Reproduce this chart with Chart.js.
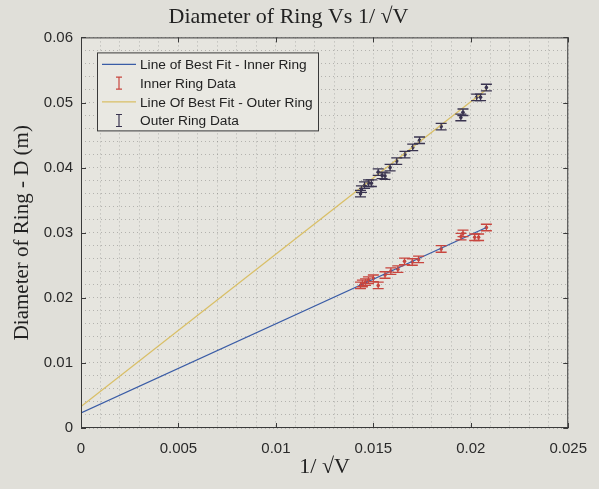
<!DOCTYPE html>
<html>
<head>
<meta charset="utf-8">
<script src="https://cdn.jsdelivr.net/npm/chart.js@4/dist/chart.umd.min.js"></script>
<style>
  html, body { margin: 0; padding: 0; background: #e0dfd9; }
  #wrap { width: 599px; height: 489px; }
</style>
</head>
<body>
<div id="wrap"><canvas id="chart" width="599" height="489"></canvas></div>
<script>
// 1/sqrt(V) values and ring diameters (m)
const innerX = [0.01434, 0.01444, 0.0146, 0.01475, 0.0150, 0.01525, 0.0156, 0.0159, 0.01626,
                0.0166, 0.0170, 0.01732, 0.01848, 0.0195, 0.0196, 0.0202, 0.0204, 0.0208];
const innerD = [0.0219, 0.0222, 0.0224, 0.0227, 0.0230, 0.0219, 0.0235, 0.0241, 0.0244,
                0.0256, 0.0255, 0.0259, 0.0275, 0.0294, 0.0299, 0.0293, 0.0293, 0.0308];
const outerX = [0.01434, 0.01439, 0.01455, 0.01475, 0.0149, 0.01525, 0.01545, 0.0156, 0.01586,
                0.0162, 0.01662, 0.01702, 0.01737, 0.01848, 0.01949, 0.0196, 0.0203, 0.0205, 0.0208];
const outerD = [0.0360, 0.0367, 0.0373, 0.0376, 0.0376, 0.0393, 0.0388, 0.0387, 0.0400,
                0.0410, 0.0420, 0.0431, 0.0442, 0.0463, 0.0477, 0.0485, 0.0508, 0.0508, 0.0523];
const innerErr = 0.0005;
const outerErr = 0.0005;

// best fit lines (end points)
const fitX = [0, 0.0208];
const innerFit = [0.0023, 0.0308];
const outerFit = [0.0033, 0.0520];

const xMajor = [0, 0.005, 0.01, 0.015, 0.02, 0.025];
const yMajor = [0, 0.01, 0.02, 0.03, 0.04, 0.05, 0.06];

const legendLabels = ['Line of Best Fit - Inner Ring', 'Inner Ring Data',
                      'Line Of Best Fit - Outer Ring', 'Outer Ring Data'];

const BLUE = '#3a5ca6';
const RED = '#c8463f';
const YELLOW = '#d9bf66';
const DARK = '#3a3450';

const pts = (xs, ys) => xs.map((x, i) => ({ x: x, y: ys[i] }));
const isMajor = (v, list) => list.some(m => Math.abs(v - m) < 1e-7);

const decor = {
  id: 'decor',
  beforeDraw(chart) {
    const { ctx, chartArea: a } = chart;
    ctx.save();
    ctx.fillStyle = '#e6e5df';
    ctx.fillRect(a.left, a.top, a.right - a.left, a.bottom - a.top);
    ctx.restore();
  },
  afterDatasetsDraw(chart) {
    const { ctx, chartArea: a, scales } = chart;
    const xs = scales.x, ys = scales.y;
    ctx.save();

    // error bars
    const bars = [[innerX, innerD, innerErr, RED], [outerX, outerD, outerErr, DARK]];
    bars.forEach(([bx, by, err, col]) => {
      ctx.strokeStyle = col;
      ctx.lineWidth = 1.3;
      bx.forEach((xv, i) => {
        const px = xs.getPixelForValue(xv);
        const top = ys.getPixelForValue(by[i] + err);
        const bot = ys.getPixelForValue(by[i] - err);
        ctx.beginPath();
        ctx.moveTo(px, top); ctx.lineTo(px, bot);
        ctx.moveTo(px - 5.5, top); ctx.lineTo(px + 5.5, top);
        ctx.moveTo(px - 5.5, bot); ctx.lineTo(px + 5.5, bot);
        ctx.stroke();
      });
    });

    // axes box and inner tick marks
    ctx.strokeStyle = '#3a3a3a';
    ctx.lineWidth = 1;
    ctx.strokeRect(a.left + 0.5, a.top + 0.5, a.right - a.left - 1, a.bottom - a.top - 1);
    ctx.beginPath();
    xMajor.forEach(v => {
      const px = Math.round(xs.getPixelForValue(v)) + 0.5;
      ctx.moveTo(px, a.bottom); ctx.lineTo(px, a.bottom - 5);
      ctx.moveTo(px, a.top); ctx.lineTo(px, a.top + 5);
    });
    yMajor.forEach(v => {
      const py = Math.round(ys.getPixelForValue(v)) + 0.5;
      ctx.moveTo(a.left, py); ctx.lineTo(a.left + 5, py);
      ctx.moveTo(a.right, py); ctx.lineTo(a.right - 5, py);
    });
    ctx.stroke();

    // legend
    const lx = a.left + 16, ly = a.top + 15, lw = 221, lh = 78;
    ctx.fillStyle = '#e9e8e2';
    ctx.fillRect(lx, ly, lw, lh);
    ctx.strokeStyle = '#3a3a3a';
    ctx.strokeRect(lx + 0.5, ly + 0.5, lw, lh);
    ctx.font = '13.7px "Liberation Sans", Arial, sans-serif';
    ctx.textBaseline = 'middle';
    const cols = [BLUE, RED, YELLOW, DARK];
    legendLabels.forEach((txt, i) => {
      const cy = ly + 12 + i * 18.7;
      ctx.strokeStyle = cols[i];
      ctx.lineWidth = 1.2;
      ctx.beginPath();
      if (i % 2 === 0) {
        ctx.moveTo(lx + 5, cy); ctx.lineTo(lx + 39, cy);
      } else {
        const cx = lx + 22;
        ctx.moveTo(cx, cy - 6); ctx.lineTo(cx, cy + 6);
        ctx.moveTo(cx - 3, cy - 6); ctx.lineTo(cx + 3, cy - 6);
        ctx.moveTo(cx - 3, cy + 6); ctx.lineTo(cx + 3, cy + 6);
      }
      ctx.stroke();
      ctx.fillStyle = '#222';
      ctx.fillText(txt, lx + 43, cy + 1);
    });
    ctx.restore();
  }
};

const gridOpts = {
  color: 'rgba(70,70,70,0.32)',
  lineWidth: 1,
  drawTicks: false
};

const config = {
  data: {
    datasets: [
      { type: 'line', label: legendLabels[0], data: pts(fitX, innerFit), borderColor: BLUE,
        borderWidth: 1.3, pointRadius: 0, fill: false },
      { type: 'scatter', label: legendLabels[1], data: pts(innerX, innerD), borderColor: RED,
        backgroundColor: RED, pointRadius: 1.8, borderWidth: 0 },
      { type: 'line', label: legendLabels[2], data: pts(fitX, outerFit), borderColor: YELLOW,
        borderWidth: 1.3, pointRadius: 0, fill: false },
      { type: 'scatter', label: legendLabels[3], data: pts(outerX, outerD), borderColor: DARK,
        backgroundColor: DARK, pointRadius: 1.8, borderWidth: 0 }
    ]
  },
  options: {
    responsive: false,
    animation: false,
    layout: { padding: { right: 22, top: 0, bottom: 0, left: 0 } },
    plugins: {
      legend: { display: false },
      tooltip: { enabled: false },
      title: {
        display: true,
        text: 'Diameter of Ring Vs 1/ \u221AV',
        color: '#222',
        font: { family: '"Liberation Serif", "DejaVu Serif", serif', size: 22, weight: 'normal' },
        padding: { top: 4, bottom: 7 }
      }
    },
    scales: {
      x: {
        type: 'linear', min: 0, max: 0.025,
        afterFit(scale) { scale.height = 61; },
        border: { display: false, dash: [1, 3] },
        grid: gridOpts,
        ticks: {
          stepSize: 0.001, autoSkip: false, maxRotation: 0, padding: 12,
          color: '#2a2a2a',
          font: { family: '"Liberation Sans", Arial, sans-serif', size: 15 },
          callback: v => isMajor(v, xMajor) ? String(+v.toFixed(3)) : ''
        },
        title: {
          display: true, text: '1/ \u221AV', color: '#222',
          font: { family: '"Liberation Serif", "DejaVu Serif", serif', size: 22 },
          padding: { top: 0, bottom: 9 }
        }
      },
      y: {
        type: 'linear', min: 0, max: 0.06,
        afterFit(scale) { scale.width = 81; },
        border: { display: false, dash: [1, 3] },
        grid: gridOpts,
        ticks: {
          stepSize: 0.002, autoSkip: false, padding: 8,
          color: '#2a2a2a',
          font: { family: '"Liberation Sans", Arial, sans-serif', size: 15 },
          callback: v => isMajor(v, yMajor) ? String(+v.toFixed(2)) : ''
        },
        title: {
          display: true, text: 'Diameter of Ring - D (m)', color: '#222',
          font: { family: '"Liberation Serif", "DejaVu Serif", serif', size: 21 },
          padding: { top: 10, bottom: 0 }
        }
      }
    }
  },
  plugins: [decor]
};

const myChart = new Chart(document.getElementById('chart'), config);
</script>
</body>
</html>
